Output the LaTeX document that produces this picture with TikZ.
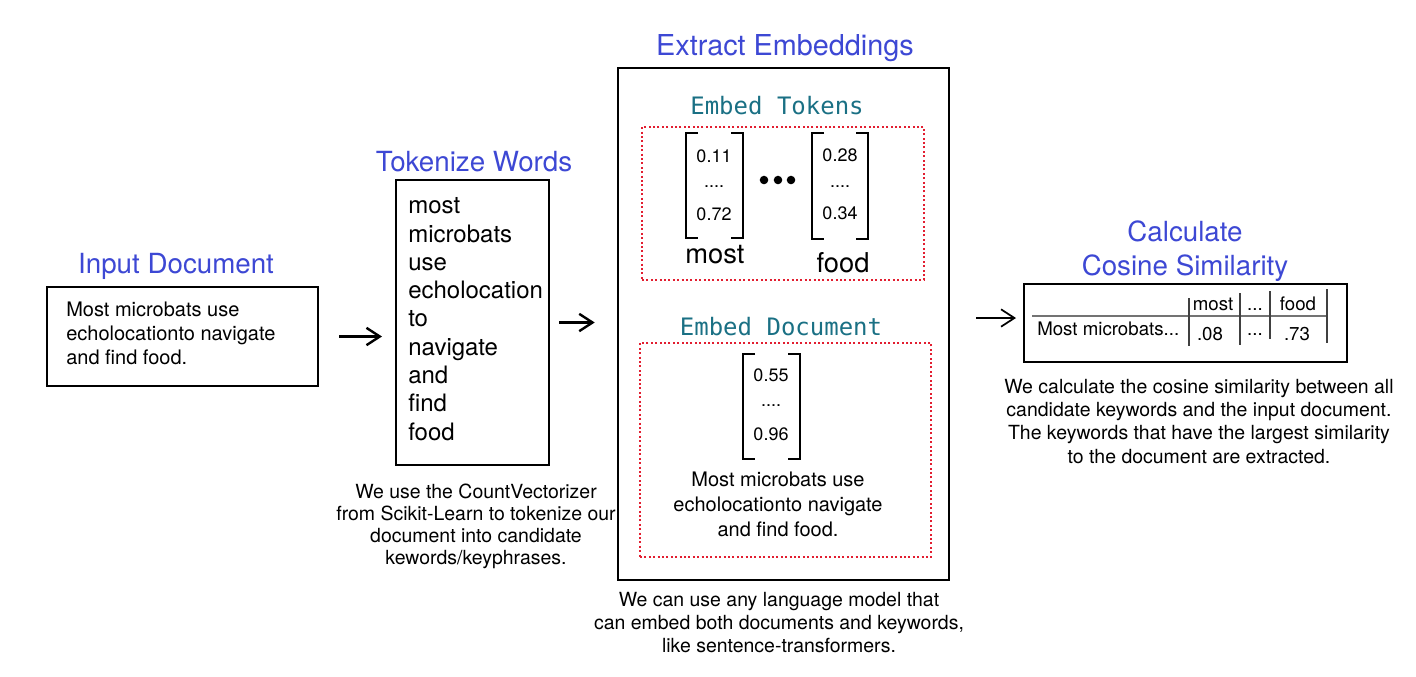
\documentclass[tikz,border=0pt]{standalone}
\usepackage{fontspec}
\setmainfont{TeX Gyre Heros}
\setmonofont{DejaVu Sans Mono}
\usepackage{xcolor}
\usepackage{tikz}
\usetikzlibrary{positioning,arrows.meta,fit}
\definecolor{ttlblue}{RGB}{61,72,212}
\definecolor{embteal}{RGB}{26,112,132}
\definecolor{dotred}{RGB}{226,30,48}
\newcommand{\fs}[2]{\fontsize{#1}{#2}\selectfont}

\begin{document}
\begin{tikzpicture}[x=0.75pt,y=-0.75pt]
		\tikzstyle{every node}+=[inner sep=0pt]
		\tikzstyle{ttl}=[text=ttlblue,font=\fs{20.8}{25.5},align=center,anchor=base]
		\tikzstyle{box}=[draw,line width=1.5pt,inner sep=0pt]
		\tikzstyle{redbox}=[draw=dotred,line width=1.8pt,dash pattern=on 1.5pt off 1.8pt,inner sep=0pt]
		\tikzstyle{note}=[font=\fs{14.6}{16.9},align=center,anchor=base]
		\tikzstyle{emb}=[text=embteal,font=\ttfamily\fs{18}{22},anchor=base]
		\tikzstyle{val}=[font=\fs{13.5}{16},anchor=base]
		\tikzstyle{cell}=[font=\fs{14}{17},anchor=base]
		\tikzstyle{flow}=[line width=1.8pt,-{Straight Barb[length=10pt,width=13pt]}]
		\tikzstyle{brk}=[line width=1.8pt]
		\tikzstyle{rule}=[line width=1.1pt,black!75]
		\useasboundingbox (0,0) rectangle (1416,676);
		\node[ttl] (intitle) at (176,273) {Input Document};
		\node[box,fit={(47,287) (318,386)}] (inbox) {};
		\node[anchor=base west,align=left,font=\fs{15}{18}] (intext) at (66,364) {Most microbats use\\echolocationto navigate\\and find food.};
		\node[ttl] (toktitle) at (474,171) {Tokenize Words};
		\node[box,fit={(396,180) (549,465)}] (tokbox) {};
		\node[anchor=base west,align=left,font=\fs{18}{21.2}] (toktext) at (408,440) {most\\microbats\\use\\echolocation\\to\\navigate\\and\\find\\food};
		\node[note,font=\fs{14.6}{16.3}] (toknote) at (476,564) {We use the CountVectorizer\\from Scikit-Learn to tokenize our\\document into candidate\\kewords/keyphrases.};
		\node[ttl,font=\fs{21.6}{26}] (embtitle) at (785,55) {Extract Embeddings};
		\node[box,line width=1.9pt,fit={(618,68) (949,580)}] (embbox) {};
		\node[emb] (tokhead) at (777,114) {Embed Tokens};
		\node[redbox,fit={(642,127) (924,280)}] (tokred) {};
		\node[emb] (dochead) at (781,335) {Embed Document};
		\node[redbox,fit={(640,343) (931,557)}] (docred) {};
		\foreach \l/\r/\t/\b in {686/743/133/238, 812/868/133/239, 743/800/354/459} {
			\draw[brk] (\l+12,\t) -- (\l,\t) -- (\l,\b) -- (\l+12,\b);
			\draw[brk] (\r-12,\t) -- (\r,\t) -- (\r,\b) -- (\r-12,\b);
		}
		\node[val] (v1a) at (714,162) {0.11};
		\node[val] (v1b) at (714,187) {....};
		\node[val] (v1c) at (714,220) {0.72};
		\node[val] (v2a) at (840,161) {0.28};
		\node[val] (v2b) at (840,187) {....};
		\node[val] (v2c) at (840,219) {0.34};
		\node[val] (v3a) at (771,381) {0.55};
		\node[val] (v3b) at (771,406) {....};
		\node[val] (v3c) at (771,440) {0.96};
		\foreach \x in {764,778,791} \fill (\x,180) circle (3.2pt);
		\node[anchor=base,font=\fs{20.5}{24}] (wmost) at (715,263) {most};
		\node[anchor=base,font=\fs{20.5}{24}] (wfood) at (843,272) {food};
		\node[anchor=base,align=center,font=\fs{15}{18.4}] (doctext) at (778,536) {Most microbats use\\echolocationto navigate\\and find food.};
		\node[note] (embnote) at (779,652) {We can use any language model that\\can embed both documents and keywords,\\like sentence-transformers.};
		\node[ttl] (simtitle) at (1185,275) {Calculate\\Cosine Similarity};
		\node[box,fit={(1024,284) (1347,362)}] (simbox) {};
		\draw[line width=2pt,black!55] (1032,316) -- (1328,316);
		\draw[rule] (1189,298) -- (1189,346);
		\draw[rule] (1240,293) -- (1240,345);
		\draw[rule] (1270,291) -- (1270,339);
		\draw[rule] (1327,289) -- (1327,343);
		\node[cell] (hmost) at (1213,310) {most};
		\node[cell] (hdots) at (1255,310) {...};
		\node[cell] (hfood) at (1298,310) {food};
		\node[cell,anchor=base west] (rdoc) at (1037,335) {Most microbats...};
		\node[cell] (r08) at (1210,340) {.08};
		\node[cell] (rdots) at (1255,335) {...};
		\node[cell] (r73) at (1297,340) {.73};
		\node[note,font=\fs{14.6}{17.5}] (simnote) at (1199,463) {We calculate the cosine similarity between all\\candidate keywords and the input document.\\The keywords that have the largest similarity\\to the document are extracted.};
		\draw[flow,shorten <=15pt,shorten >=9.75pt] (inbox.east) -- (inbox.east -| tokbox.west);
		\draw[flow,shorten <=6.75pt,shorten >=16.5pt] (tokbox.east) -- (tokbox.east -| embbox.west);
		\draw[flow,line width=1.3pt,shorten <=19.5pt,shorten >=5.25pt] ([yshift=4.5pt]embbox.east) -- ([yshift=4.5pt]embbox.east -| simbox.west);
	\end{tikzpicture}
\end{document}
